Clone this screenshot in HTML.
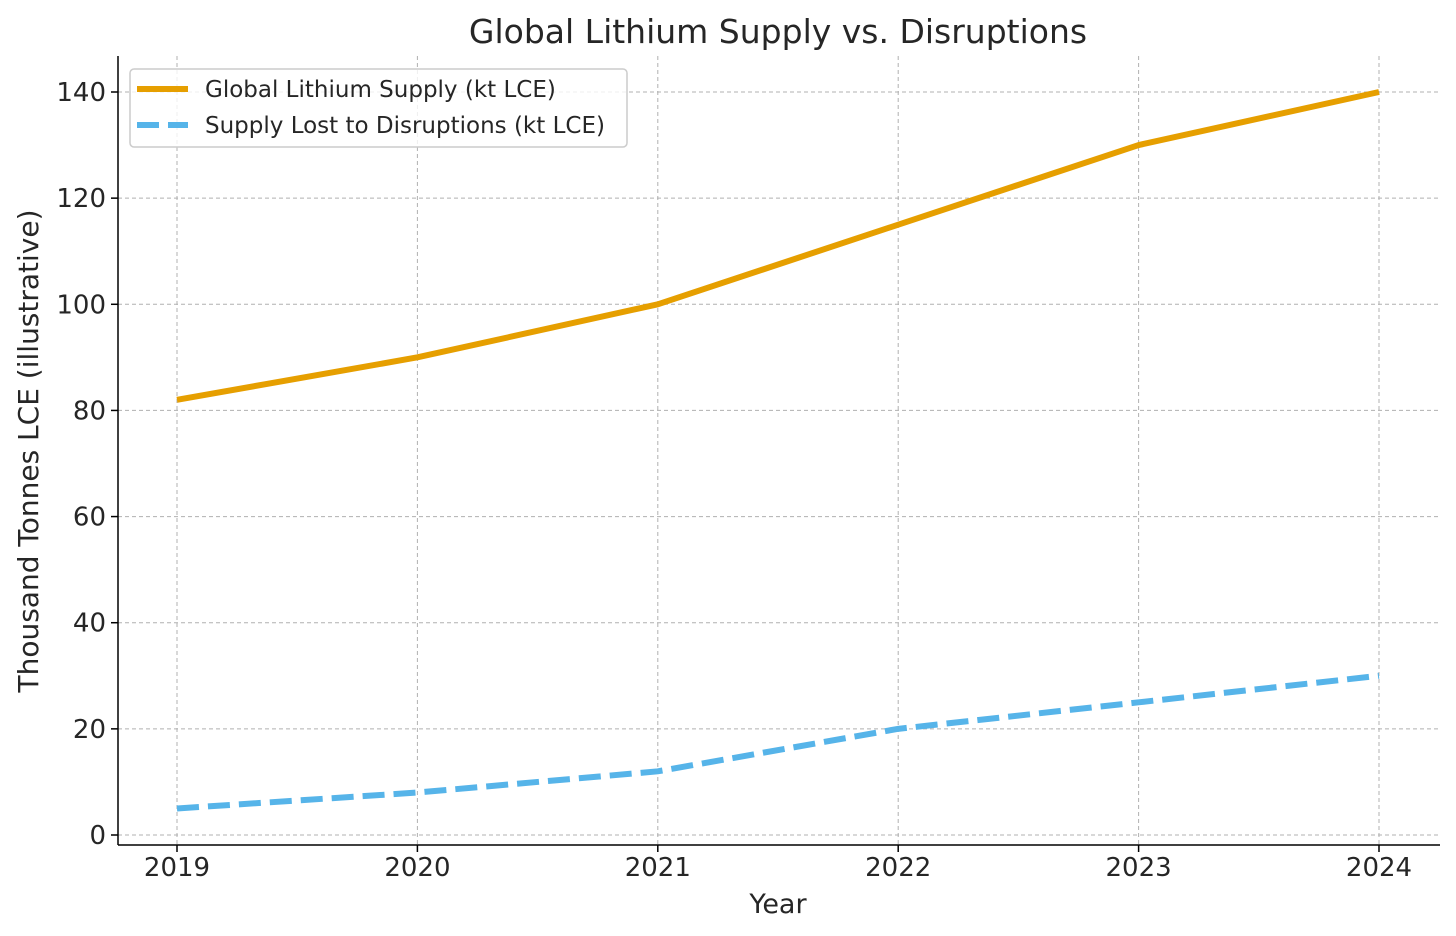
<!DOCTYPE html>
<html><head><meta charset="utf-8"><style>
body{margin:0;background:#fff;}
svg{display:block;font-family:"DejaVu Sans","Liberation Sans",sans-serif;}
</style></head><body>
<svg id="chart" width="1456" height="936">
<rect width="1456" height="936" fill="#fff"/>
<g id="grid"></g>
<g id="axes"></g>
<g id="series"></g>
<text x="778" y="43" font-size="33" text-anchor="middle" fill="#262626">Global Lithium Supply vs. Disruptions</text>
<text x="778" y="913" font-size="27" text-anchor="middle" fill="#262626">Year</text>
<text transform="translate(38,451) rotate(-90)" font-size="28" text-anchor="middle" fill="#262626">Thousand Tonnes LCE (illustrative)</text>
<g>
<rect x="130" y="69" width="497" height="78" rx="4" fill="#fff" fill-opacity="0.8" stroke="#ccc" stroke-width="1.5"/>
<g>
<line x1="137" y1="89" x2="188" y2="89" stroke="#E69F00" stroke-width="6"/>
<text x="205" y="97" font-size="23" fill="#262626">Global Lithium Supply (kt LCE)</text></g>
<g>
<line x1="137" y1="125" x2="188" y2="125" stroke="#56B4E9" stroke-width="6" stroke-dasharray="22,9"/>
<text x="205" y="133" font-size="23" fill="#262626">Supply Lost to Disruptions (kt LCE)</text></g>
</g>
</svg>
<script>
const years=[2019,2020,2021,2022,2023,2024];
const supply=[82,90,100,115,130,140];
const disruptions=[5,8,12,20,25,30];
const yTicks=[0,20,40,60,80,100,120,140];
const NS="http://www.w3.org/2000/svg";
const xS=i=>177+i*(1379-177)/5;
const yS=v=>835-v*(835-92)/140;
function mk(tag,attrs,parent){const e=document.createElementNS(NS,tag);for(const k in attrs)e.setAttribute(k,attrs[k]);parent.appendChild(e);return e;}
const grid=document.getElementById('grid'),axes=document.getElementById('axes'),series=document.getElementById('series');
yTicks.forEach(v=>{
 const l=mk('line',{x1:118,x2:1440,y1:yS(v),y2:yS(v),stroke:'#b0b0b0','stroke-width':1,'stroke-dasharray':'4,3'},grid);
 
 
 mk('line',{x1:111,x2:118,y1:yS(v),y2:yS(v),stroke:'#000','stroke-width':1.5},axes);
 const t=mk('text',{x:106,y:yS(v)+9,'font-size':26,'text-anchor':'end',fill:'#262626'},axes);t.textContent=v;
 
 
});
years.forEach((y,i)=>{
 const l=mk('line',{x1:xS(i),x2:xS(i),y1:56,y2:845,stroke:'#b0b0b0','stroke-width':1,'stroke-dasharray':'4,3'},grid);
 
 
 mk('line',{x1:xS(i),x2:xS(i),y1:845,y2:852,stroke:'#000','stroke-width':1.5},axes);
 const t=mk('text',{x:xS(i),y:876,'font-size':26,'text-anchor':'middle',fill:'#262626'},axes);t.textContent=y;
 
 
});
mk('line',{x1:118,x2:118,y1:56,y2:845,stroke:'#000','stroke-width':1.5},axes);
mk('line',{x1:118,x2:1440,y1:845,y2:845,stroke:'#000','stroke-width':1.5},axes);
const p1=mk('polyline',{points:supply.map((v,i)=>xS(i)+','+yS(v)).join(' '),fill:'none',stroke:'#E69F00','stroke-width':6,'stroke-linejoin':'round'},series);


const p2=mk('polyline',{points:disruptions.map((v,i)=>xS(i)+','+yS(v)).join(' '),fill:'none',stroke:'#56B4E9','stroke-width':6,'stroke-dasharray':'22,9'},series);


</script>
</body></html>
